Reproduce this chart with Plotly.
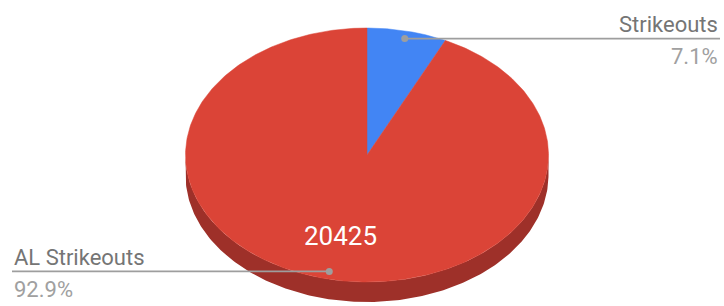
import numpy as np
import plotly.graph_objects as go

categories = ["Strikeouts", "AL Strikeouts"]
values = [1561, 20425]
colors = ["#4285f4", "#db4437"]
side_colors = ["#2a56a8", "#9e3029"]

W, H = 724, 306
cx, cy, a, b, depth = 367, 155, 181.5, 127, 20

total = sum(values)
fracs = [v / total for v in values]

def pt(theta, dy=0.0):
    # theta: clockwise angle from 12 o'clock, radians
    return cx + a * np.sin(theta), cy - b * np.cos(theta) + dy

fig = go.Figure()

start = 0.0
bounds = []
for f in fracs:
    bounds.append((start, start + f * 2 * np.pi))
    start += f * 2 * np.pi

# side walls (front visible part)
for (t0, t1), sc in zip(bounds, side_colors):
    lo, hi = max(t0, np.pi / 2), min(t1, 3 * np.pi / 2)
    if hi <= lo:
        continue
    ts = np.linspace(lo, hi, 200)
    xs_top, ys_top = pt(ts)
    xs_bot, ys_bot = pt(ts[::-1], depth)
    fig.add_trace(go.Scatter(
        x=np.concatenate([xs_top, xs_bot]), y=np.concatenate([ys_top, ys_bot]),
        fill="toself", fillcolor=sc, mode="lines", line=dict(width=0, color=sc),
        hoverinfo="skip", showlegend=False))

# top faces
for (t0, t1), c in zip(bounds, colors):
    ts = np.linspace(t0, t1, 400)
    xs, ys = pt(ts)
    fig.add_trace(go.Scatter(
        x=np.concatenate([[cx], xs, [cx]]), y=np.concatenate([[cy], ys, [cy]]),
        fill="toself", fillcolor=c, mode="lines", line=dict(width=0.5, color=c),
        hoverinfo="skip", showlegend=False))

mids = [(t0 + t1) / 2 for t0, t1 in bounds]

# value label inside the big slice
vx, vy = pt(mids[1])
fig.add_annotation(x=cx + (vx - cx) * 0.65, y=cy + (vy - cy) * 0.65,
                   text=str(values[1]), showarrow=False, xanchor="center", yanchor="middle",
                   font=dict(family="Roboto", size=26, color="white"))

# leader lines and labels
line_col = "#9e9e9e"
sx, sy = pt(mids[0])
dot1 = (cx + (sx - cx) * 0.94, cy + (sy - cy) * 0.94)
dot2 = (cx + (vx - cx) * 0.94, cy + (vy - cy) * 0.94)
fig.add_trace(go.Scatter(x=[dot1[0], 720], y=[dot1[1], dot1[1]], mode="lines",
                         line=dict(color=line_col, width=1.6), hoverinfo="skip", showlegend=False))
fig.add_trace(go.Scatter(x=[12, dot2[0]], y=[dot2[1], dot2[1]], mode="lines",
                         line=dict(color=line_col, width=1.6), hoverinfo="skip", showlegend=False))
fig.add_trace(go.Scatter(x=[dot1[0], dot2[0]], y=[dot1[1], dot2[1]], mode="markers",
                         marker=dict(color=line_col, size=7), hoverinfo="skip", showlegend=False))

pcts = [f"{f*100:.1f}%" for f in fracs]
fs = 22
fig.add_annotation(x=720, y=dot1[1] + 0.5, text=categories[0], showarrow=False, xanchor="right",
                   yanchor="bottom", font=dict(family="Roboto", size=fs, color="#757575"))
fig.add_annotation(x=720, y=dot1[1] + 3.5, text=pcts[0], showarrow=False, xanchor="right",
                   yanchor="top", font=dict(family="Roboto", size=fs, color="#a0a0a0"))
fig.add_annotation(x=12, y=dot2[1] + 0.5, text=categories[1], showarrow=False, xanchor="left",
                   yanchor="bottom", font=dict(family="Roboto", size=fs, color="#757575"))
fig.add_annotation(x=12, y=dot2[1] + 3.5, text=pcts[1], showarrow=False, xanchor="left",
                   yanchor="top", font=dict(family="Roboto", size=fs, color="#a0a0a0"))

fig.update_layout(
    width=W, height=H, margin=dict(l=0, r=0, t=0, b=0),
    paper_bgcolor="white", plot_bgcolor="white",
    xaxis=dict(range=[0, W], visible=False, fixedrange=True),
    yaxis=dict(range=[H, 0], visible=False, fixedrange=True),
)
fig.write_html("out.html", config={"displayModeBar": False},
               post_script="document.body.style.margin='0';document.body.style.overflow='hidden';")
